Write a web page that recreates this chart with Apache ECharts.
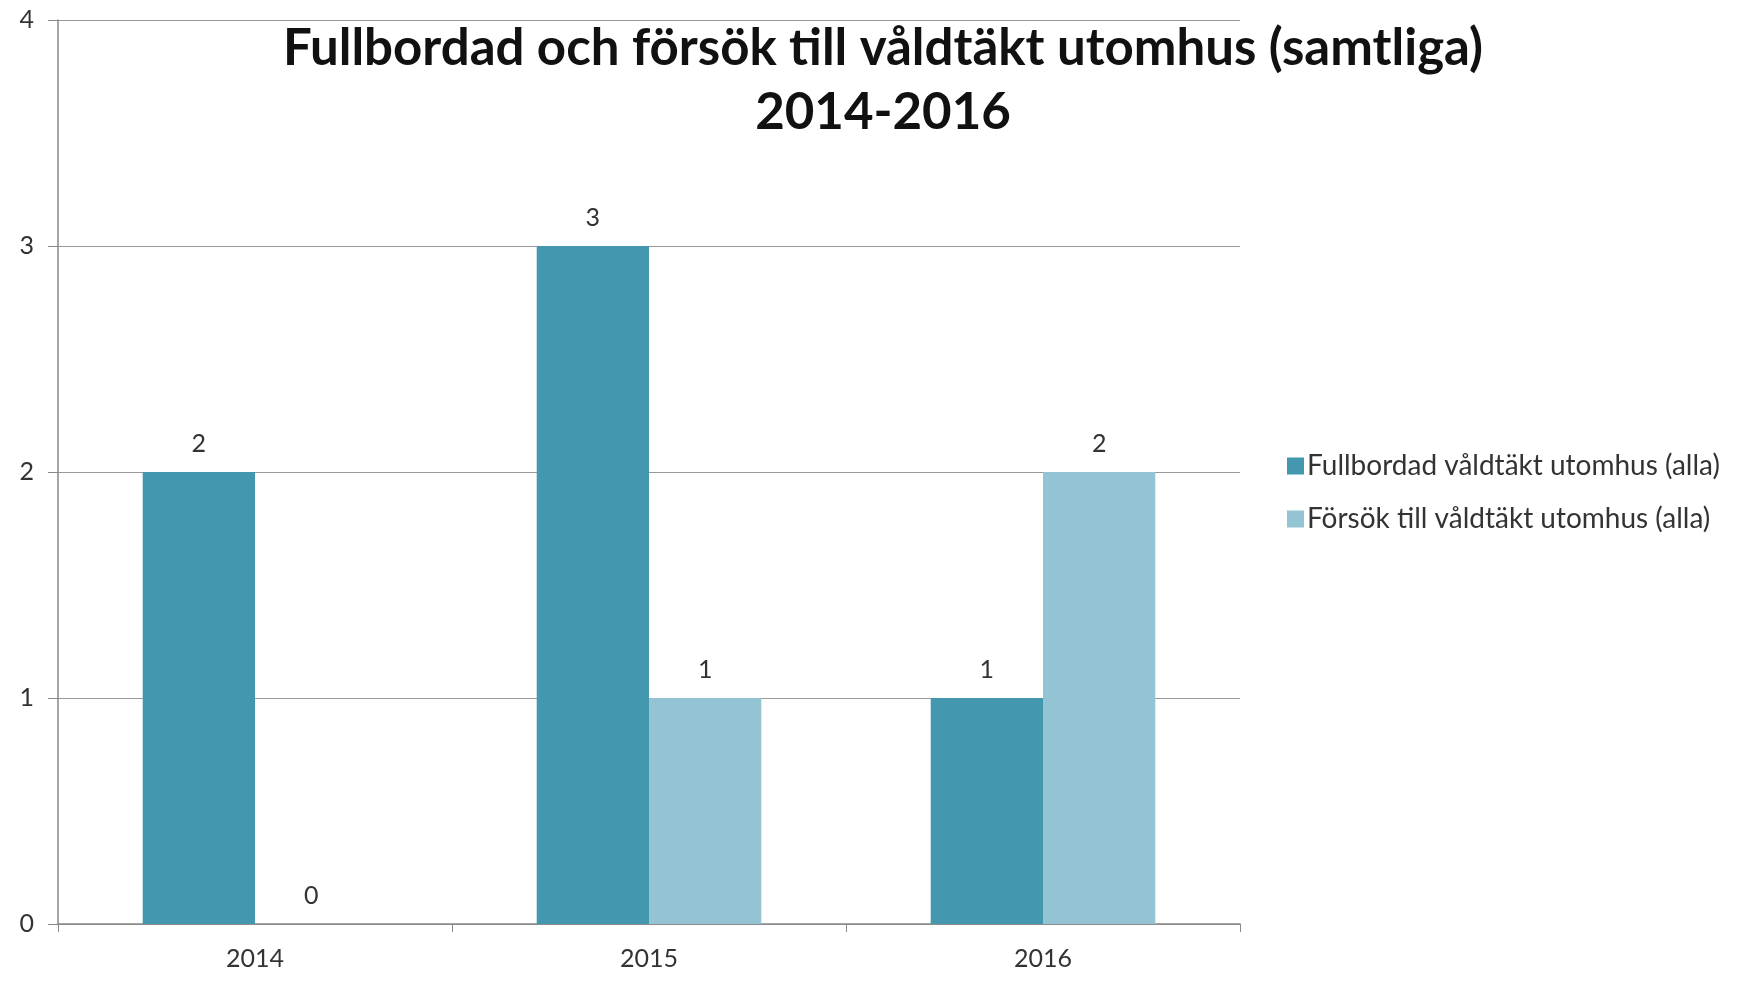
<!DOCTYPE html>
<html>
<head>
<meta charset="utf-8">
<script src="https://cdn.jsdelivr.net/npm/echarts@6/dist/echarts.min.js"></script>
<style>
  html, body { margin: 0; padding: 0; background: #fff; }
  #chart { width: 1756px; height: 996px; }
</style>
</head>
<body>
<div id="chart"></div>
<script>
// data
const years = ["2014", "2015", "2016"];
const fullbordad = [2, 3, 1];
const forsok = [0, 1, 2];
const seriesNames = ["Fullbordad våldtäkt utomhus (alla)", "Försök till våldtäkt utomhus (alla)"];

const chart = echarts.init(document.getElementById("chart"));
const font = "Lato, 'Open Sans', sans-serif";

const labelStyle = {
  show: true,
  position: "top",
  distance: 16,
  color: "#333",
  fontSize: 25,
  fontFamily: font
};

const option = {
  backgroundColor: "#fff",
  animation: false,
  title: {
    text: "Fullbordad och försök till våldtäkt utomhus (samtliga)\n2014-2016",
    left: 878,
    textAlign: "center",
    top: 12,
    textStyle: {
      fontFamily: font,
      fontWeight: "bold",
      fontSize: 51,
      lineHeight: 64,
      color: "#111"
    }
  },
  legend: {
    orient: "vertical",
    left: 1282,
    top: 447,
    itemWidth: 17,
    itemHeight: 17,
    itemGap: 25,
    icon: "rect",
    textStyle: { fontFamily: font, fontSize: 28, color: "#333", padding: [0, 0, 0, -2] },
    data: seriesNames
  },
  grid: { left: 58, right: 516, top: 20, bottom: 72 },
  xAxis: {
    type: "category",
    data: years,
    axisLine: { lineStyle: { color: "#888", width: 1.5 } },
    axisTick: { show: true, length: 8, lineStyle: { color: "#888" } },
    axisLabel: { color: "#333", fontSize: 25, fontFamily: font, margin: 22 }
  },
  yAxis: {
    type: "value",
    min: 0,
    max: 4,
    interval: 1,
    axisLine: { show: true, lineStyle: { color: "#888", width: 1.5 } },
    axisTick: { show: true, length: 10, lineStyle: { color: "#888" } },
    axisLabel: { color: "#333", fontSize: 25, fontFamily: font, margin: 24 },
    splitLine: { lineStyle: { color: "#999", width: 1.2 } }
  },
  series: [
    {
      name: seriesNames[0],
      type: "bar",
      data: fullbordad,
      barGap: "0%",
      barCategoryGap: "43%",
      itemStyle: { color: "#4398B0" },
      label: labelStyle
    },
    {
      name: seriesNames[1],
      type: "bar",
      data: forsok,
      itemStyle: { color: "#94C3D4" },
      label: labelStyle
    }
  ]
};

chart.setOption(option);
</script>
</body>
</html>
